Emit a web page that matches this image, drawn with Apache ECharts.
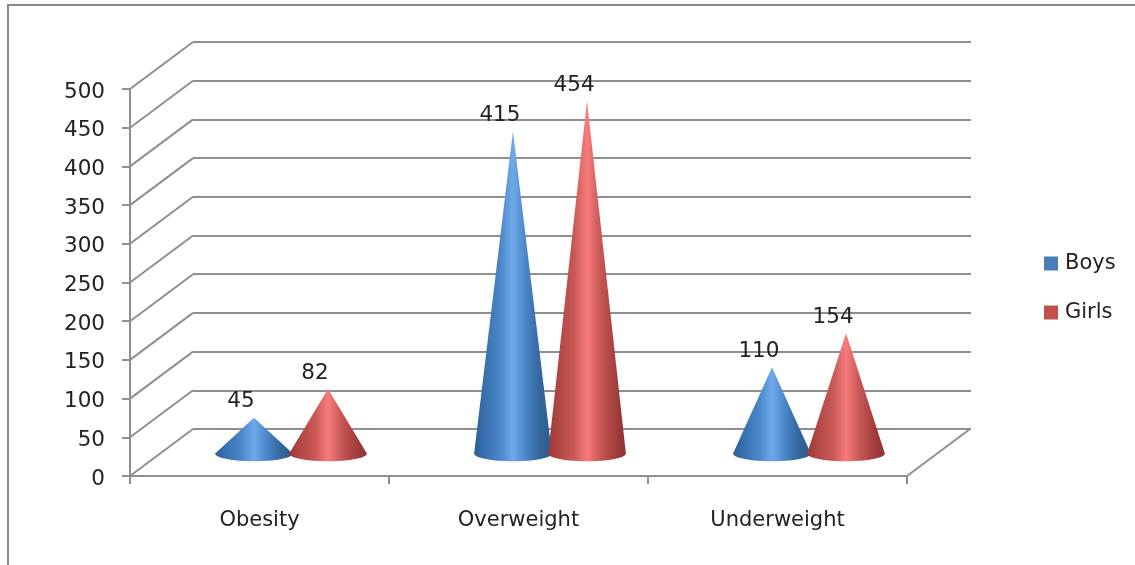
<!DOCTYPE html>
<html>
<head>
<meta charset="utf-8">
<style>html,body{margin:0;padding:0;background:#fff}#c{width:1135px;height:565px}</style>
<script src="https://cdn.jsdelivr.net/npm/echarts@6/dist/echarts.min.js"></script>
</head>
<body>
<div id="c"></div>
<script>
const categories = ['Obesity', 'Overweight', 'Underweight'];
const boys = [45, 415, 110];
const girls = [82, 454, 154];
const yTicks = [0, 50, 100, 150, 200, 250, 300, 350, 400, 450, 500];

const FONT = '"DejaVu Sans", sans-serif';
const TEXT = '#222';
const LINE = '#8f8f8f';
const DEPTH_X = 63, DEPTH_Y = -47;

const chart = echarts.init(document.getElementById('c'), null, {renderer: 'canvas'});

function grad(stops) {
  return new echarts.graphic.LinearGradient(0, 0, 1, 0,
    stops.map((c, i) => ({offset: i / (stops.length - 1), color: c})));
}
const boysFill = ['#2c5f94', '#3a74b4', '#4a86c8', '#6fa9ea', '#4a86c8', '#35689f', '#2a5a8c'];
const girlsFill = ['#9c3836', '#b54a47', '#c85855', '#f87c7c', '#c85855', '#a84240', '#8c3230'];

function coneSeries(name, values, side, stops, legendColor) {
  return {
    name, type: 'custom', xAxisIndex: 0, yAxisIndex: 0, z: 5, clip: false,
    itemStyle: {color: legendColor},
    encode: {x: 0, y: 1},
    data: values.map((v, i) => [i, v]),
    renderItem(params, api) {
      const band = api.size([1, 0])[0];
      const rx = band * 0.15;
      const ry = rx * 0.2;
      const shiftX = DEPTH_X / 2 + side * band * 0.143;
      const shiftY = DEPTH_Y / 2;
      const tip = api.coord([api.value(0), api.value(1)]);
      const base = api.coord([api.value(0), 0]);
      const cx = base[0] + shiftX, cy = base[1] + shiftY + 1;
      const pts = [[tip[0] + shiftX, tip[1] + shiftY]];
      for (let a = 0; a <= 48; a++) {
        const t = Math.PI * a / 48;
        pts.push([cx + rx * Math.cos(t), cy + ry * Math.sin(t)]);
      }
      return {
        type: 'group',
        children: [
          {type: 'polygon', shape: {points: pts}, style: {fill: grad(stops)}},
          {type: 'text', z2: 10, style: {
            text: String(api.value(1)),
            x: tip[0] + shiftX - 13, y: tip[1] + shiftY - 16,
            align: 'center', verticalAlign: 'middle',
            font: '21.5px ' + FONT, fill: TEXT
          }}
        ]
      };
    }
  };
}

const wallSeries = {
  type: 'custom', xAxisIndex: 0, yAxisIndex: 0, z: 1, silent: true, clip: false,
  encode: {y: 0},
  data: yTicks.map(v => [v]),
  renderItem(params, api) {
    const c = params.coordSys;
    const p = api.coord([0, api.value(0)]);
    const style = {stroke: LINE, lineWidth: 2, fill: null};
    const children = [{type: 'line', shape: {x1: c.x, y1: p[1], x2: c.x + DEPTH_X, y2: p[1] + DEPTH_Y}, style}];
    if (api.value(0) === 0) {
      children.push({type: 'line', shape: {x1: c.x + c.width, y1: p[1], x2: c.x + c.width + DEPTH_X, y2: p[1] + DEPTH_Y}, style});
    }
    return {type: 'group', children};
  }
};

chart.setOption({
  animation: false,
  backgroundColor: '#fff',
  tooltip: {show: false},
  graphic: [{
    type: 'rect', z: 0, silent: true,
    shape: {x: 8, y: 5, width: 1300, height: 800},
    style: {fill: null, stroke: '#8a8a8a', lineWidth: 2}
  }],
  legend: {
    data: ['Boys', 'Girls'], orient: 'vertical', left: 1039, top: 248,
    itemWidth: 14, itemHeight: 14, itemGap: 28, icon: 'rect',
    textStyle: {fontFamily: FONT, fontSize: 21, color: TEXT, padding: [0, 0, 0, 2]}
  },
  grid: [
    {left: 130, right: 228, top: 89, bottom: 89},
    {left: 193, right: 164, top: 42, bottom: 136}
  ],
  xAxis: [
    {type: 'category', gridIndex: 0, data: categories,
      axisLine: {lineStyle: {color: LINE, width: 2}},
      axisTick: {show: true, length: 8, lineStyle: {color: LINE, width: 2}},
      axisLabel: {fontFamily: FONT, fontSize: 21, color: TEXT, margin: 34}},
    {type: 'category', gridIndex: 1, data: categories, show: false}
  ],
  yAxis: [
    {type: 'value', gridIndex: 0, min: 0, max: 500, interval: 50,
      axisLine: {show: true, lineStyle: {color: LINE, width: 2}},
      axisTick: {show: true, length: 8, lineStyle: {color: LINE, width: 2}},
      axisLabel: {color: TEXT, margin: 25, formatter: '{v|{value}}',
        rich: {v: {fontFamily: FONT, fontSize: 21.5, color: TEXT, padding: [6, 0, 0, 0]}}},
      splitLine: {show: false}},
    {type: 'value', gridIndex: 1, min: 0, max: 500, interval: 50,
      axisLine: {show: false}, axisTick: {show: false}, axisLabel: {show: false},
      splitLine: {show: true, lineStyle: {color: LINE, width: 2}}}
  ],
  series: [
    wallSeries,
    coneSeries('Boys', boys, -1, boysFill, '#4a7ebb'),
    coneSeries('Girls', girls, 1, girlsFill, '#c0504d')
  ]
});
</script>
</body>
</html>
